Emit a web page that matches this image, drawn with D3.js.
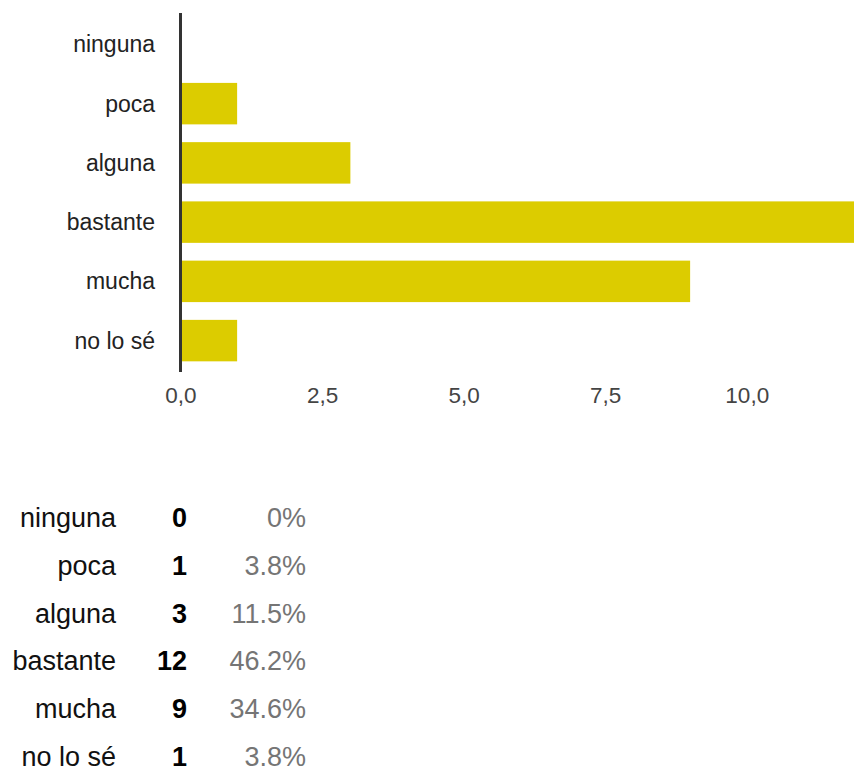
<!DOCTYPE html>
<html>
<head>
<meta charset="utf-8">
<script src="https://cdn.jsdelivr.net/npm/d3@7"></script>
<style>
  html, body { margin: 0; padding: 0; background: #fff; }
  svg { display: block; font-family: "Liberation Sans", Arial, Helvetica, sans-serif; }
</style>
</head>
<body>
<svg id="chart" width="854" height="772"></svg>
<script>
const categories = ["ninguna", "poca", "alguna", "bastante", "mucha", "no lo sé"];
const counts = [0, 1, 3, 12, 9, 1];
const percents = ["0%", "3.8%", "11.5%", "46.2%", "34.6%", "3.8%"];
const tickValues = [0, 2.5, 5, 7.5, 10];
const tickLabels = ["0,0", "2,5", "5,0", "7,5", "10,0"];

const svg = d3.select("#chart");

const x = d3.scaleLinear().domain([0, 12]).range([180.5, 860]);
const y = d3.scaleBand().domain(categories).range([13, 372])
  .paddingInner(0.3).paddingOuter(0.18);

// bars
svg.append("g").selectAll("rect").data(categories).join("rect")
  .attr("x", x(0))
  .attr("y", d => y(d))
  .attr("width", (d, i) => x(counts[i]) - x(0))
  .attr("height", y.bandwidth())
  .attr("fill", "#dccc00");

// category labels
svg.append("g").selectAll("text").data(categories).join("text")
  .attr("x", 155)
  .attr("y", d => y(d) + y.bandwidth() / 2)
  .attr("dy", "0.35em")
  .attr("text-anchor", "end")
  .attr("font-size", 23)
  .attr("fill", "#222")
  .text(d => d);

// y axis line
svg.append("line")
  .attr("x1", x(0)).attr("x2", x(0))
  .attr("y1", 13).attr("y2", 372)
  .attr("stroke", "#333").attr("stroke-width", 3);

// x axis ticks (labels only)
const xAxis = d3.axisBottom(x).tickValues(tickValues)
  .tickFormat((d, i) => tickLabels[i]).tickSize(0).tickPadding(0);
const gx = svg.append("g").attr("transform", "translate(0,387)").call(xAxis);
gx.select(".domain").remove();
gx.selectAll("text")
  .attr("font-size", 22.5)
  .attr("font-family", "Liberation Sans, Arial, sans-serif")
  .attr("fill", "#444")
  .attr("dy", "0.71em");

// table
const rowY = d3.scalePoint().domain(categories).range([527, 766]);
const table = svg.append("g");
table.selectAll("text.lab").data(categories).join("text")
  .attr("class", "lab")
  .attr("x", 116).attr("y", d => rowY(d))
  .attr("text-anchor", "end").attr("font-size", 27).attr("fill", "#111")
  .text(d => d);
table.selectAll("text.cnt").data(categories).join("text")
  .attr("class", "cnt")
  .attr("x", 187).attr("y", d => rowY(d))
  .attr("text-anchor", "end").attr("font-size", 27).attr("font-weight", "bold").attr("fill", "#000")
  .text((d, i) => counts[i]);
table.selectAll("text.pct").data(categories).join("text")
  .attr("class", "pct")
  .attr("x", 306).attr("y", d => rowY(d))
  .attr("text-anchor", "end").attr("font-size", 27).attr("fill", "#757575")
  .text((d, i) => percents[i]);
</script>
</body>
</html>
